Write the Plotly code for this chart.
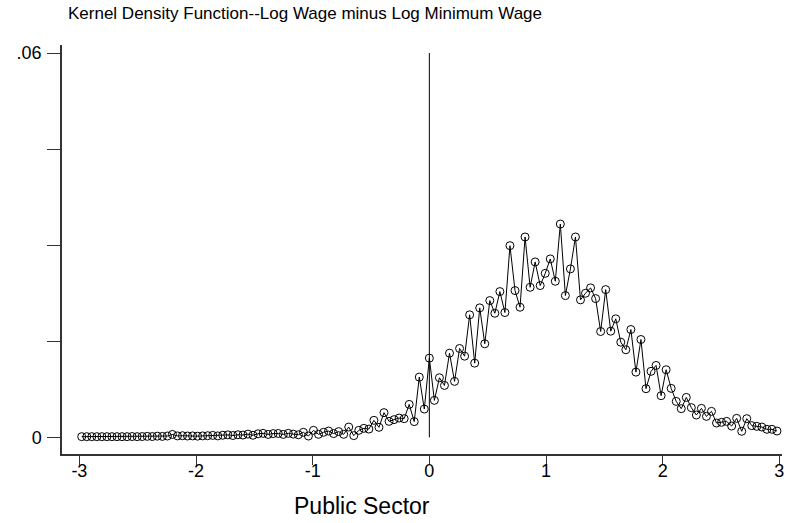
import numpy as np
import plotly.graph_objects as go

# Evaluation grid of the kernel density estimate (evenly spaced points)
grid_min, grid_max, grid_n = -2.98, 2.98, 139
x_grid = np.linspace(grid_min, grid_max, grid_n)

# Estimated density, left tail (x < -1.08)
density_left_tail = [
    0.0001, 0.0001, 0.0001, 0.0001, 0.0001, 0.0001, 0.0001, 0.0001, 0.0001, 0.0001,
    0.00012, 0.0001, 0.00012, 0.00015, 0.00012, 0.00018, 0.00014, 0.0002, 0.00045, 0.00022,
    0.00025, 0.0002, 0.00022, 0.00018, 0.00022, 0.00025, 0.0003, 0.00022, 0.00032, 0.00038,
    0.00028, 0.0004, 0.00035, 0.0005, 0.00032, 0.00055, 0.00062, 0.00045, 0.00058, 0.0006,
    0.00045, 0.00062, 0.0005, 0.0004,
]
# Estimated density just below the minimum wage (-1.08 <= x < 0)
density_below_min = [
    0.00078, 0.0002, 0.00109, 0.00047, 0.00078, 0.00098, 0.00058, 0.00089, 0.00047, 0.0016,
    0.00026, 0.00109, 0.0014, 0.00129, 0.00265, 0.00156, 0.00385, 0.00249, 0.00276, 0.00301,
    0.00291, 0.00514, 0.00245, 0.0094, 0.00441,
]
# Density at the minimum wage (x = 0)
density_at_min = [0.01236]
# Density above the minimum wage (x > 0)
density_above_min = [
    0.00577, 0.0093, 0.0081, 0.01314, 0.00873, 0.01387, 0.01267, 0.01912, 0.01158, 0.02021,
    0.0146, 0.02135, 0.01937, 0.02275, 0.01948, 0.02992, 0.02291, 0.02031, 0.03128, 0.02342,
    0.02738, 0.02369, 0.0256, 0.02785, 0.02436, 0.0333, 0.02213, 0.02629, 0.03128, 0.02146,
    0.02249, 0.02333, 0.02166, 0.01652, 0.02306, 0.01657, 0.0185, 0.01485, 0.01367, 0.01683,
    0.01018, 0.01527, 0.00759, 0.0103, 0.01122, 0.0065, 0.01055, 0.00764, 0.00561, 0.00447,
    0.00623, 0.00463, 0.00348, 0.00452, 0.00327, 0.00405, 0.00223, 0.00234, 0.00249, 0.00176,
    0.00296, 0.00094, 0.00291, 0.00182, 0.00171, 0.0016, 0.00125, 0.00125, 0.00098,
]
density = density_left_tail + density_below_min + density_at_min + density_above_min

x_tick_vals = [-3, -2, -1, 0, 1, 2, 3]
x_tick_text = ["-3", "-2", "-1", "0", "1", "2", "3"]
y_tick_vals = [0, 0.015, 0.03, 0.045, 0.06]
y_tick_text = ["0", "", "", "", ".06"]

title_text = "Kernel Density Function--Log Wage minus Log Minimum Wage"
x_label = "Public Sector"

FONT = "Liberation Sans, Arial, sans-serif"
INK = "#000000"
AXIS = "#333333"

fig = go.Figure()

fig.add_trace(go.Scatter(
    x=x_grid,
    y=density,
    mode="lines+markers",
    line=dict(color=INK, width=1),
    marker=dict(symbol="circle-open", size=8, color=INK, line=dict(width=1, color=INK)),
    showlegend=False,
    hoverinfo="x+y",
))

# Reference line at the minimum wage
fig.add_shape(
    type="line", xref="x", yref="y",
    x0=0, x1=0, y0=0, y1=0.06,
    line=dict(color=INK, width=1),
)

fig.update_layout(
    width=796,
    height=523,
    margin=dict(l=62, r=14, t=45, b=69),
    paper_bgcolor="white",
    plot_bgcolor="white",
    font=dict(family=FONT, color=INK),
    xaxis=dict(
        range=[-3.149, 3.023],
        tickmode="array",
        tickvals=x_tick_vals,
        ticktext=x_tick_text,
        ticks="outside",
        ticklen=9,
        tickwidth=1.3,
        tickcolor=AXIS,
        ticklabelstandoff=-9,
        showline=True,
        linecolor=AXIS,
        linewidth=1.5,
        showgrid=False,
        zeroline=False,
        tickfont=dict(size=18, family=FONT, color=INK),
    ),
    yaxis=dict(
        range=[-0.002606, 0.06125],
        tickmode="array",
        tickvals=y_tick_vals,
        ticktext=y_tick_text,
        ticks="outside",
        ticklen=13,
        tickwidth=1.3,
        tickcolor=AXIS,
        ticklabelstandoff=2,
        showline=True,
        linecolor=AXIS,
        linewidth=1.5,
        showgrid=False,
        zeroline=False,
        tickfont=dict(size=18, family=FONT, color=INK),
    ),
    annotations=[
        dict(
            text=title_text, xref="paper", yref="paper",
            x=0.0056, y=1.078, xanchor="left", yanchor="middle",
            showarrow=False, font=dict(size=17, family=FONT, color=INK),
        ),
        dict(
            text=x_label, xref="paper", yref="paper",
            x=0.3194, y=-0.127, xanchor="left", yanchor="middle",
            showarrow=False, font=dict(size=23, family=FONT, color=INK),
        ),
    ],
)

fig.write_html("out.html")
